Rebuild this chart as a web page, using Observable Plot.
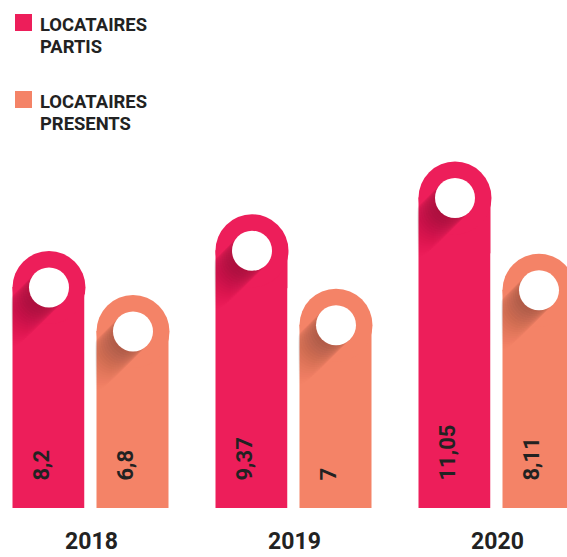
<!DOCTYPE html>
<html>
<head>
<meta charset="utf-8">
<script src="https://cdn.jsdelivr.net/npm/d3@7"></script>
<script src="https://cdn.jsdelivr.net/npm/@observablehq/plot@0.6"></script>
<style>
  html, body { margin: 0; padding: 0; background: #fff; overflow: hidden; }
  #wrap { width: 567px; height: 557px; position: relative; font-family: Roboto, "Noto Sans", sans-serif; }
  #legend { position: relative; height: 150px; }
  .sw { position: absolute; left: 15px; width: 17px; height: 17px; }
  .lt { position: absolute; left: 40px; font-size: 18.4px; line-height: 22px; font-weight: 700; color: #222; }
</style>
</head>
<body>
<div id="wrap">
  <div id="legend"></div>
  <div id="chart"></div>
</div>
<script>
// ---- data ----
const years = ["2018", "2019", "2020"];
const seriesKeys = ["partis", "presents"];
const seriesNames = ["LOCATAIRES\nPARTIS", "LOCATAIRES\nPRESENTS"];
const partis = [8.2, 9.37, 11.05];
const presents = [6.8, 7, 8.11];

// ---- style ----
const colors = ["#ED1E5A", "#F48367"];
const capR = 36.5;     // half bar width (rounded top)
const holeR = 20;      // white circle
const barW = capR * 2;

const data = [];
years.forEach((y, i) => {
  data.push({year: y, type: "partis", value: partis[i]});
  data.push({year: y, type: "presents", value: presents[i]});
});
const dPartis = data.filter(d => d.type === "partis");
const dPresents = data.filter(d => d.type === "presents");
const label = d => String(d.value).replace(".", ",");

// legend
const legend = document.getElementById("legend");
const legendTops = [14, 91];
seriesNames.forEach((name, i) => {
  const sw = document.createElement("div");
  sw.className = "sw";
  sw.style.top = (legendTops[i]) + "px";
  sw.style.background = colors[i];
  legend.appendChild(sw);
  const t = document.createElement("div");
  t.className = "lt";
  t.style.top = legendTops[i] + "px";
  t.innerHTML = name.split("\n").join("<br>");
  legend.appendChild(t);
});

const shadowSteps = d3.range(2, 42, 2);
const shadows = rows => shadowSteps.map(k =>
  Plot.dot(rows, {fx: "year", x: "type", y: "value", r: holeR, dx: -k, dy: capR + k,
    fill: "#000", fillOpacity: 0.03 * (1 - k / 44), stroke: "none"})
);
const body = rows => [
  Plot.barY(rows, {fx: "year", x: "type", y: "value", fill: "type", insetTop: capR}),
  Plot.dot(rows, {fx: "year", x: "type", y: "value", r: capR, dy: capR, fill: "type", stroke: "none"})
];
// white cover of the gap on the left of a bar (hides shadow overflow)
const gapCover = (rows, w) => Plot.barY(rows, {fx: "year", x: "type", y: "value", fill: "#fff",
  dx: -barW, insetLeft: barW - w});

const chart = Plot.plot({
  width: 567,
  height: 407,
  marginLeft: 11.5,
  marginRight: -9.5,
  marginTop: 0,
  marginBottom: 49,
  style: {fontFamily: "Roboto, 'Noto Sans', sans-serif", color: "#222", background: "transparent"},
  fx: {domain: years, paddingInner: 0.2236, paddingOuter: 0, label: null},
  x: {domain: seriesKeys, paddingInner: 0.141, paddingOuter: 0, axis: null},
  y: {domain: [0, 11.4], axis: null},
  color: {domain: seriesKeys, range: colors},
  marks: [
    ...body(dPresents),
    ...shadows(dPresents),
    ...body(dPartis),
    ...shadows(dPartis),
    gapCover(dPartis, 32),
    gapCover(dPresents, 12),
    Plot.dot(data, {fx: "year", x: "type", y: "value", r: holeR, dy: capR, fill: "#fff", stroke: "none"}),
    Plot.text(data, {fx: "year", x: "type", frameAnchor: "bottom", text: label, rotate: -90,
      textAnchor: "start", dy: -28, fontSize: 22, fontWeight: "bold", fill: "#222"}),
    Plot.axisFx({anchor: "bottom", tickSize: 0, tickPadding: 24, fontSize: 23, fontWeight: "bold", label: null})
  ]
});
document.getElementById("chart").appendChild(chart);
</script>
</body>
</html>
